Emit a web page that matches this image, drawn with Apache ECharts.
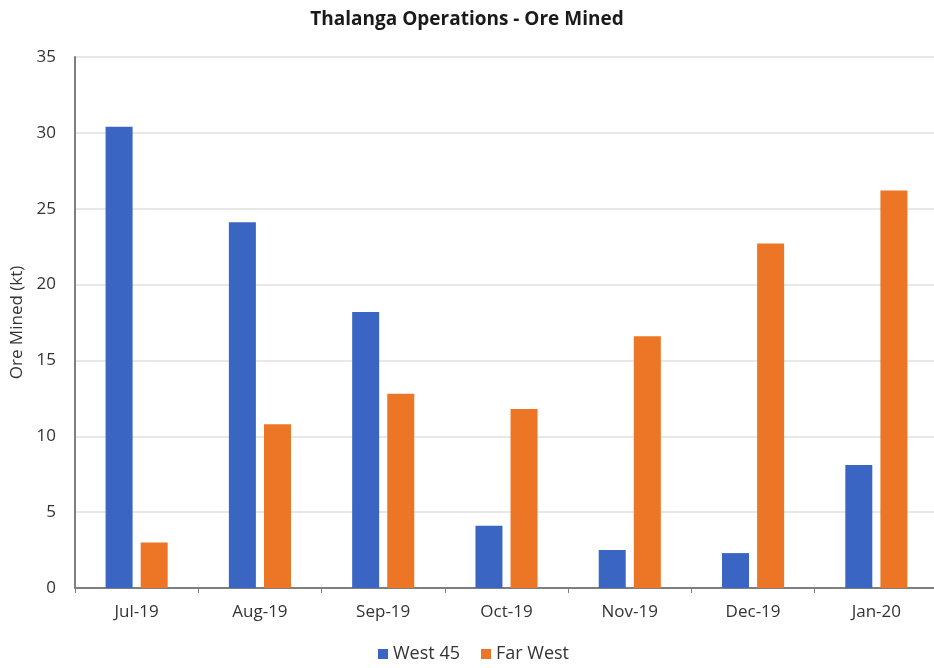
<!DOCTYPE html>
<html>
<head>
<meta charset="utf-8">
<script src="https://cdn.jsdelivr.net/npm/echarts@6/dist/echarts.min.js"></script>
<style>
html,body{margin:0;padding:0;background:#fff;}
#chart{width:934px;height:668px;}
</style>
</head>
<body>
<div id="chart"></div>
<script>
const categories = ['Jul-19','Aug-19','Sep-19','Oct-19','Nov-19','Dec-19','Jan-20'];
const west45 = [30.4, 24.1, 18.2, 4.1, 2.5, 2.3, 8.1];
const farWest = [3.0, 10.8, 12.8, 11.8, 16.6, 22.7, 26.2];
const yTicks = { min: 0, max: 35, interval: 5 };
const FONT = '"Open Sans", sans-serif';

const chart = echarts.init(document.getElementById('chart'), null, { renderer: 'canvas' });
chart.setOption({
  backgroundColor: '#ffffff',
  animation: false,
  title: {
    text: 'Thalanga Operations - Ore Mined',
    left: 'center',
    top: 5,
    textStyle: { fontFamily: FONT, fontSize: 19, fontWeight: 'bold', color: '#1a1a1a' }
  },
  legend: {
    bottom: 0,
    left: 373,
    itemWidth: 10,
    itemHeight: 10,
    itemGap: 21,
    itemTextGap: 6,
    icon: 'rect',
    textStyle: { fontFamily: FONT, fontSize: 18, color: '#333' },
    data: ['West 45', 'Far West']
  },
  grid: { left: 75, top: 57, width: 863, height: 531, containLabel: false, outerBoundsMode: 'none' },
  xAxis: {
    type: 'category',
    data: categories,
    axisLine: { show: true, lineStyle: { color: '#7f7f7f', width: 2 } },
    axisTick: { show: true, alignWithLabel: false, length: 5, lineStyle: { color: '#7f7f7f' } },
    axisLabel: { fontFamily: FONT, fontSize: 17, color: '#333', margin: 16 }
  },
  yAxis: {
    type: 'value',
    min: yTicks.min, max: yTicks.max, interval: yTicks.interval,
    name: 'Ore Mined (kt)',
    nameLocation: 'middle',
    nameGap: 47,
    nameRotate: 90,
    nameTextStyle: { fontFamily: FONT, fontSize: 17, color: '#333' },
    axisLine: { show: true, lineStyle: { color: '#7f7f7f', width: 2 } },
    axisTick: { show: false },
    axisLabel: { fontFamily: FONT, fontSize: 17, color: '#333', margin: 19 },
    splitLine: { show: true, lineStyle: { color: '#e0e0e0', width: 1.5 } }
  },
  series: [
    {
      name: 'West 45', type: 'bar', data: west45,
      barWidth: 27, barGap: '30%',
      itemStyle: { color: '#3b65c2' }
    },
    {
      name: 'Far West', type: 'bar', data: farWest,
      barWidth: 27,
      itemStyle: { color: '#ec7625' }
    }
  ]
});
</script>
</body>
</html>
